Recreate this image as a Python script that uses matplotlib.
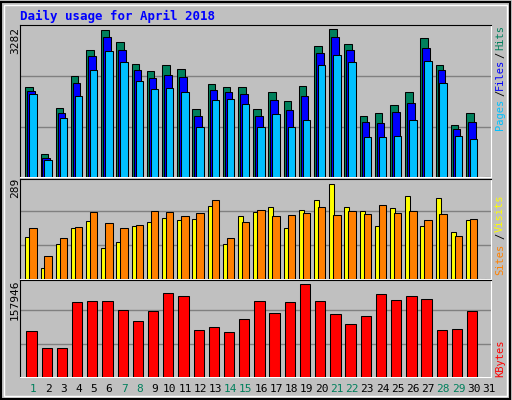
import matplotlib
matplotlib.use('Agg')
import matplotlib.pyplot as plt
from matplotlib.patches import Rectangle
import numpy as np

days = np.arange(1, 32)
hits = [1990, 520, 1523, 2236, 2815, 3260, 2993, 2503, 2347, 2481, 2391, 1500, 2057, 1990, 1990,
        1500, 1879, 1678, 2013, 2904, 3282, 2949, 1344, 1411, 1589, 1879, 3082, 2481, 1144, 1411, 0]
files = [1901, 431, 1411, 2080, 2681, 3104, 2815, 2369, 2191, 2258, 2213, 1344, 1924, 1879, 1834,
         1344, 1701, 1478, 1790, 2748, 3104, 2815, 1211, 1188, 1433, 1634, 2859, 2369, 1055, 1211, 0]
pages = [1834, 386, 1300, 1790, 2369, 2793, 2547, 2124, 1946, 1968, 1879, 1099, 1701, 1723, 1612,
         1099, 1389, 1099, 1255, 2481, 2703, 2547, 876, 876, 899, 1255, 2570, 2080, 899, 832, 0]
visits = [129, 35, 107, 154, 176, 94, 113, 160, 173, 185, 179, 182, 223, 107, 192,
          204, 220, 154, 210, 242, 289, 220, 207, 160, 217, 254, 163, 248, 144, 179, 0]
sites = [154, 69, 126, 157, 204, 170, 154, 166, 207, 204, 192, 201, 242, 126, 173,
         210, 192, 195, 201, 220, 195, 207, 198, 226, 201, 207, 179, 198, 132, 182, 0]
kbytes = [78400, 49000, 49000, 126800, 128500, 128500, 113000, 95700, 111200, 142400, 137200, 80100,
          85300, 76700, 99100, 128500, 107800, 126800, 157946, 128500, 106100, 90500, 102600, 140600,
          130300, 137200, 132000, 80100, 81800, 111200, 0]
weekend = [1, 7, 8, 14, 15, 21, 22, 28, 29]

W, H = 512, 400
bg = '#c0c0c0'
fig = plt.figure(figsize=(W / 100, H / 100), dpi=100, facecolor=bg)
fig.patches.append(Rectangle((1 / W, 1 / H), 1 - 3 / W, 1 - 3 / H, transform=fig.transFigure,
                             fill=False, ec='black', lw=1.5))
fig.patches.append(Rectangle((4 / W, 4 / H), 1 - 9 / W, 1 - 9 / H, transform=fig.transFigure,
                             fill=False, ec='white', lw=1))

mono = 'DejaVu Sans Mono'


def panel(top, bottom):
    ax = fig.add_axes([20 / W, 1 - bottom / H, 471 / W, (bottom - top) / H])
    ax.set_facecolor(bg)
    ax.set_xlim(0.5, 31.5)
    ax.set_xticks([])
    ax.set_yticks([])
    for s in ax.spines.values():
        s.set_color('black')
    ax.spines['bottom'].set_color('white')
    ax.spines['right'].set_color('white')
    return ax


def bars(ax, vals, left, width, color):
    ax.bar(days + left, vals, width=width, align='edge', color=color, edgecolor='black', lw=0.75, zorder=3)


ax1 = panel(25, 177)
ymax = 3282 * 150 / 147.3
ax1.set_ylim(0, ymax * 151 / 150)
for g in (1, 2):
    ax1.axhline(ymax * g / 3, color='#808080', lw=1, zorder=1)
bars(ax1, hits, -0.15, 0.5, '#00805c')
bars(ax1, files, -0.02, 0.5, '#0000ff')
bars(ax1, pages, 0.11, 0.49, '#00c0ff')

ax2 = panel(179, 279)
ax2.set_ylim(0, 289 * 97 / 92)
for g in (1, 2):
    ax2.axhline(289 * g / 2.77, color='#808080', lw=1, zorder=1)
bars(ax2, visits, -0.15, 0.33, '#ffff00')
bars(ax2, sites, 0.11, 0.49, '#ff8000')

ax3 = panel(280, 377)
ax3.set_ylim(0, 157946 * 95 / 91.3)
for g in (1, 2):
    ax3.axhline(157946 * g / 2.8, color='#808080', lw=1, zorder=1)
bars(ax3, kbytes, -0.08, 0.68, '#ff0000')

fig.text(20 / W, 1 - 16 / H, 'Daily usage for April 2018', color='#0000ff', family=mono,
         fontweight='bold', fontsize=9, va='center', ha='left')

for txt, y in [('3282', 40), ('289', 188), ('157946', 300)]:
    fig.text(15 / W, 1 - y / H, txt, rotation=90, family=mono, fontsize=8, ha='center', va='center')

for txt, y, c in [('Hits', 38, '#00805c'), ('/', 55, 'black'), ('Files', 74, '#0000ff'),
                  ('/', 93, 'black'), ('Pages', 114, '#00c0ff'),
                  ('Visits', 213, '#ffff00'), ('/', 236, 'black'), ('Sites', 259, '#ff8000'),
                  ('KBytes', 358, '#ff0000')]:
    fig.text(500 / W, 1 - y / H, txt, rotation=90, family=mono, fontsize=7.5, color=c,
             ha='center', va='center')

for d in days:
    x = 20 + (d - 0.5 + 0.36) * 471 / 31
    fig.text(x / W, 1 - 389 / H, str(d), family=mono, fontsize=8, ha='center', va='center',
             color='#00805c' if d in weekend else 'black')

fig.savefig('out.png', dpi=100, facecolor=bg)
